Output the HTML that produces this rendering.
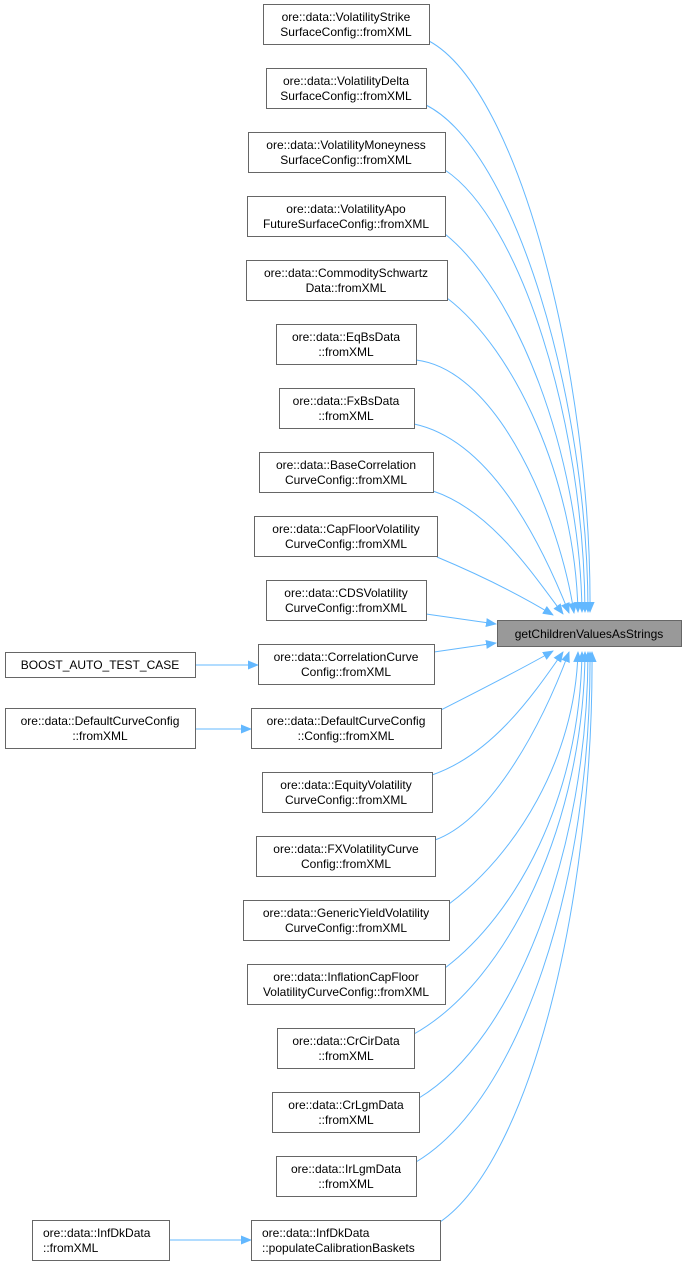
<!DOCTYPE html>
<html><head><meta charset="utf-8"><style>
html,body{margin:0;padding:0;background:#fff;}
svg{display:block;}
text{font-family:"Liberation Sans",Arial,sans-serif;font-size:12px;fill:#000;}
.n{fill:#fff;stroke:#666;stroke-width:1;}
.e{fill:none;stroke:#63b8ff;stroke-width:1;}
</style></head><body>
<svg width="687" height="1267" viewBox="0 0 687 1267" xmlns="http://www.w3.org/2000/svg">
<defs><marker id="a" markerWidth="11" markerHeight="9" refX="10" refY="4.5" orient="auto" markerUnits="userSpaceOnUse"><path d="M0,0 L11,4.5 L0,9 Z" fill="#63b8ff"/></marker></defs>

<!-- edges above -->
<path class="e" marker-end="url(#a)" d="M429,41 C520,90 592,380 590,612"/>
<path class="e" marker-end="url(#a)" d="M426,105 C515,150 588,400 588,612"/>
<path class="e" marker-end="url(#a)" d="M445,170 C520,220 584,420 585,612"/>
<path class="e" marker-end="url(#a)" d="M445,234 C515,290 580,450 582,612"/>
<path class="e" marker-end="url(#a)" d="M447,298 C515,350 575,480 578,612"/>
<path class="e" marker-end="url(#a)" d="M416,360 C500,370 560,520 574,613"/>
<path class="e" marker-end="url(#a)" d="M414,424 C490,440 540,540 569,613"/>
<path class="e" marker-end="url(#a)" d="M433,491 C490,510 530,570 563,614"/>
<path class="e" marker-end="url(#a)" d="M437,557 C480,575 520,595 553,615"/>
<path class="e" marker-end="url(#a)" d="M426,614 L496,624"/>
<path class="e" marker-end="url(#a)" d="M434,652 L496,643"/>
<!-- edges below -->
<path class="e" marker-end="url(#a)" d="M441,710 C480,690 520,670 553,651"/>
<path class="e" marker-end="url(#a)" d="M432,775 C490,755 530,700 563,652"/>
<path class="e" marker-end="url(#a)" d="M435,840 C490,820 540,730 569,652"/>
<path class="e" marker-end="url(#a)" d="M449,904 C515,855 575,760 578,652"/>
<path class="e" marker-end="url(#a)" d="M445,968 C515,915 580,800 582,652"/>
<path class="e" marker-end="url(#a)" d="M414,1034 C510,980 584,820 585,652"/>
<path class="e" marker-end="url(#a)" d="M419,1098 C515,1040 588,850 588,652"/>
<path class="e" marker-end="url(#a)" d="M416,1162 C520,1100 592,880 590,652"/>
<path class="e" marker-end="url(#a)" d="M440,1222 C530,1160 594,900 592,652"/>
<!-- left edges -->
<path class="e" marker-end="url(#a)" d="M195,665 L258,665"/>
<path class="e" marker-end="url(#a)" d="M195,729 L251,729"/>
<path class="e" marker-end="url(#a)" d="M169,1240 L251,1240"/>

<!-- target -->
<rect x="497.5" y="620.5" width="184" height="26" fill="#999" stroke="#666"/>
<text x="589" y="638" text-anchor="middle">getChildrenValuesAsStrings</text>

<!-- nodes -->
<g text-anchor="middle">
<rect class="n" x="263.5" y="4.5" width="166" height="40"/><text x="346" y="21">ore::data::VolatilityStrike</text><text x="346" y="36">SurfaceConfig::fromXML</text>
<rect class="n" x="266.5" y="68.5" width="160" height="40"/><text x="346" y="85">ore::data::VolatilityDelta</text><text x="346" y="100">SurfaceConfig::fromXML</text>
<rect class="n" x="248.5" y="132.5" width="197" height="40"/><text x="346" y="149">ore::data::VolatilityMoneyness</text><text x="346" y="164">SurfaceConfig::fromXML</text>
<rect class="n" x="247.5" y="196.5" width="198" height="40"/><text x="346" y="213">ore::data::VolatilityApo</text><text x="346" y="228">FutureSurfaceConfig::fromXML</text>
<rect class="n" x="246.5" y="260.5" width="201" height="40"/><text x="346" y="277">ore::data::CommoditySchwartz</text><text x="346" y="292">Data::fromXML</text>
<rect class="n" x="276.5" y="324.5" width="140" height="40"/><text x="346" y="341">ore::data::EqBsData</text><text x="346" y="356">::fromXML</text>
<rect class="n" x="279.5" y="388.5" width="135" height="40"/><text x="346" y="405">ore::data::FxBsData</text><text x="346" y="420">::fromXML</text>
<rect class="n" x="259.5" y="452.5" width="174" height="40"/><text x="346" y="469">ore::data::BaseCorrelation</text><text x="346" y="484">CurveConfig::fromXML</text>
<rect class="n" x="254.5" y="516.5" width="183" height="40"/><text x="346" y="533">ore::data::CapFloorVolatility</text><text x="346" y="548">CurveConfig::fromXML</text>
<rect class="n" x="266.5" y="580.5" width="160" height="40"/><text x="346" y="597">ore::data::CDSVolatility</text><text x="346" y="612">CurveConfig::fromXML</text>
<rect class="n" x="258.5" y="644.5" width="176" height="40"/><text x="346" y="661">ore::data::CorrelationCurve</text><text x="346" y="676">Config::fromXML</text>
<rect class="n" x="251.5" y="708.5" width="190" height="40"/><text x="346" y="725">ore::data::DefaultCurveConfig</text><text x="346" y="740">::Config::fromXML</text>
<rect class="n" x="262.5" y="772.5" width="170" height="40"/><text x="346" y="789">ore::data::EquityVolatility</text><text x="346" y="804">CurveConfig::fromXML</text>
<rect class="n" x="256.5" y="836.5" width="179" height="40"/><text x="346" y="853">ore::data::FXVolatilityCurve</text><text x="346" y="868">Config::fromXML</text>
<rect class="n" x="243.5" y="900.5" width="206" height="40"/><text x="346" y="917">ore::data::GenericYieldVolatility</text><text x="346" y="932">CurveConfig::fromXML</text>
<rect class="n" x="247.5" y="964.5" width="198" height="40"/><text x="346" y="981">ore::data::InflationCapFloor</text><text x="346" y="996">VolatilityCurveConfig::fromXML</text>
<rect class="n" x="277.5" y="1028.5" width="137" height="40"/><text x="346" y="1045">ore::data::CrCirData</text><text x="346" y="1060">::fromXML</text>
<rect class="n" x="272.5" y="1092.5" width="147" height="40"/><text x="346" y="1109">ore::data::CrLgmData</text><text x="346" y="1124">::fromXML</text>
<rect class="n" x="276.5" y="1156.5" width="140" height="40"/><text x="346" y="1173">ore::data::IrLgmData</text><text x="346" y="1188">::fromXML</text>
<rect class="n" x="5.5" y="652.5" width="190" height="25"/><text x="100" y="669">BOOST_AUTO_TEST_CASE</text>
<rect class="n" x="5.5" y="708.5" width="190" height="40"/><text x="100" y="725">ore::data::DefaultCurveConfig</text><text x="100" y="740">::fromXML</text>
</g>
<rect class="n" x="251.5" y="1220.5" width="189" height="40"/><text x="262" y="1237">ore::data::InfDkData</text><text x="262" y="1252">::populateCalibrationBaskets</text>
<rect class="n" x="32.5" y="1220.5" width="137" height="40"/><text x="43" y="1237">ore::data::InfDkData</text><text x="43" y="1252">::fromXML</text>
</svg>
</body></html>
